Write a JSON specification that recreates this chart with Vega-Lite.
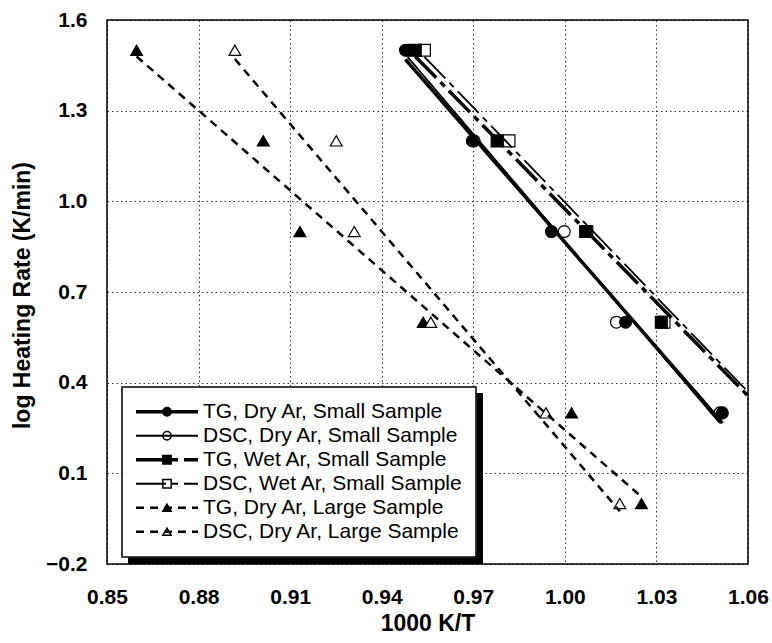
{
  "$schema": "https://vega.github.io/schema/vega-lite/v6.json",
  "width": 641,
  "height": 544,
  "autosize": {"type": "none"},
  "padding": {"left": 107, "top": 20, "right": 24, "bottom": 79},
  "background": "white",
  "config": {
    "font": "Liberation Sans",
    "view": {"stroke": "black", "strokeWidth": 1.5},
    "axis": {
      "labelFont": "Liberation Sans", "labelFontWeight": "bold", "labelFontSize": 21, "labelColor": "black",
      "titleFont": "Liberation Sans", "titleFontWeight": "bold", "titleFontSize": 23, "titleColor": "black",
      "domain": false, "ticks": false, "labelFlush": false, "labelOverlap": false,
      "gridColor": "black", "gridDash": [1.5, 3], "gridWidth": 1, "gridOpacity": 0.8
    },
    "legend": {"labelFont": "Liberation Sans"}
  },
  "data": {
    "values": [
      {"s": "DSC, Dry Ar, Small Sample", "k": 2, "x": 0.9485, "y": 1.5},
      {"s": "DSC, Dry Ar, Small Sample", "k": 2, "x": 0.9703, "y": 1.2},
      {"s": "DSC, Dry Ar, Small Sample", "k": 2, "x": 0.9998, "y": 0.9},
      {"s": "DSC, Dry Ar, Small Sample", "k": 2, "x": 1.0169, "y": 0.6},
      {"s": "DSC, Dry Ar, Small Sample", "k": 2, "x": 1.0508, "y": 0.3},
      {"s": "TG, Dry Ar, Small Sample", "k": 1, "x": 0.9478, "y": 1.5},
      {"s": "TG, Dry Ar, Small Sample", "k": 1, "x": 0.9697, "y": 1.2},
      {"s": "TG, Dry Ar, Small Sample", "k": 1, "x": 0.9956, "y": 0.9},
      {"s": "TG, Dry Ar, Small Sample", "k": 1, "x": 1.0199, "y": 0.6},
      {"s": "TG, Dry Ar, Small Sample", "k": 1, "x": 1.0516, "y": 0.3},
      {"s": "DSC, Wet Ar, Small Sample", "k": 4, "x": 0.954, "y": 1.5},
      {"s": "DSC, Wet Ar, Small Sample", "k": 4, "x": 0.9817, "y": 1.2},
      {"s": "DSC, Wet Ar, Small Sample", "k": 4, "x": 1.0072, "y": 0.9},
      {"s": "DSC, Wet Ar, Small Sample", "k": 4, "x": 1.0325, "y": 0.6},
      {"s": "DSC, Wet Ar, Small Sample", "k": 4, "x": 1.071, "y": 0.3},
      {"s": "TG, Wet Ar, Small Sample", "k": 3, "x": 0.951, "y": 1.5},
      {"s": "TG, Wet Ar, Small Sample", "k": 3, "x": 0.9778, "y": 1.2},
      {"s": "TG, Wet Ar, Small Sample", "k": 3, "x": 1.0068, "y": 0.9},
      {"s": "TG, Wet Ar, Small Sample", "k": 3, "x": 1.0316, "y": 0.6},
      {"s": "TG, Wet Ar, Small Sample", "k": 3, "x": 1.069, "y": 0.3},
      {"s": "TG, Dry Ar, Large Sample", "k": 5, "x": 0.8597, "y": 1.5},
      {"s": "TG, Dry Ar, Large Sample", "k": 5, "x": 0.9012, "y": 1.2},
      {"s": "TG, Dry Ar, Large Sample", "k": 5, "x": 0.9132, "y": 0.9},
      {"s": "TG, Dry Ar, Large Sample", "k": 5, "x": 0.9536, "y": 0.6},
      {"s": "TG, Dry Ar, Large Sample", "k": 5, "x": 1.0022, "y": 0.3},
      {"s": "TG, Dry Ar, Large Sample", "k": 5, "x": 1.0251, "y": 0.0},
      {"s": "DSC, Dry Ar, Large Sample", "k": 6, "x": 0.8919, "y": 1.5},
      {"s": "DSC, Dry Ar, Large Sample", "k": 6, "x": 0.9251, "y": 1.2},
      {"s": "DSC, Dry Ar, Large Sample", "k": 6, "x": 0.931, "y": 0.9},
      {"s": "DSC, Dry Ar, Large Sample", "k": 6, "x": 0.9561, "y": 0.6},
      {"s": "DSC, Dry Ar, Large Sample", "k": 6, "x": 0.9938, "y": 0.3},
      {"s": "DSC, Dry Ar, Large Sample", "k": 6, "x": 1.018, "y": 0.0}
    ]
  },
  "encoding": {
    "x": {
      "field": "x", "type": "quantitative",
      "scale": {"domain": [0.85, 1.06], "nice": false, "zero": false},
      "axis": {
        "values": [0.85, 0.88, 0.91, 0.94, 0.97, 1.0, 1.03, 1.06],
        "format": ".2f", "labelPadding": 22,
        "title": "1000 K/T", "titleY": 59, "titleBaseline": "middle"
      }
    },
    "y": {
      "field": "y", "type": "quantitative",
      "scale": {"domain": [-0.2, 1.6], "nice": false, "zero": false},
      "axis": {
        "values": [-0.2, 0.1, 0.4, 0.7, 1.0, 1.3, 1.6],
        "format": ".1f", "labelPadding": 20,
        "title": "log Heating Rate (K/min)", "titleX": -85, "titleY": 275, "titleBaseline": "middle"
      }
    }
  },
  "layer": [
    {
      "mark": {"type": "point", "filled": true, "clip": true, "strokeWidth": 1.2, "opacity": 1, "stroke": "black"},
      "encoding": {
        "size": {
          "field": "s", "type": "nominal",
          "scale": {"range": [140, 140]},
          "legend": {
            "title": null, "orient": "none", "legendX": 21, "legendY": 373,
            "direction": "vertical", "columns": 1,
            "padding": 13, "clipHeight": 23.5, "rowPadding": 0,
            "labelFontSize": 21, "labelOffset": 25.5, "labelColor": "black", "labelLimit": 400,
            "symbolOffset": 21.5, "symbolType": "circle",
            "fillColor": "black", "strokeColor": "black",
            "encode": {
              "symbols": {"update": {"fill": {"value": "black"}, "stroke": {"value": "black"}, "size": {"value": 60}}}
            }
          }
        },
        "shape": {
          "field": "s", "type": "nominal",
          "sort": {"field": "k", "op": "min"},
          "scale": {"range": ["circle", "circle", "square", "square", "triangle-up", "triangle-up"]},
          "legend": {
            "title": null, "orient": "none", "legendX": 15, "legendY": 367,
            "direction": "vertical", "columns": 1,
            "padding": 13, "clipHeight": 23.5, "rowPadding": 0,
            "labelFontSize": 21, "labelOffset": 25.5, "labelOpacity": 0, "labelLimit": 400,
            "symbolOffset": 21.5, "symbolSize": 70,
            "fillColor": "white", "strokeColor": "transparent",
            "encode": {
              "symbols": {
                "update": {
                  "stroke": {"value": "black"},
                  "strokeWidth": {"value": 1},
                  "opacity": {"value": 1},
                  "size": {"signal": "test(/Large/, datum.value) ? 60 : 75"}
                }
              }
            }
          }
        },
        "fill": {
          "field": "s", "type": "nominal",
          "sort": {"field": "k", "op": "min"},
          "scale": {"range": ["black", "white", "black", "white", "black", "white"]},
          "legend": {
            "title": null, "orient": "none", "legendX": 15, "legendY": 367,
            "direction": "vertical", "columns": 1,
            "padding": 13, "clipHeight": 23.5, "rowPadding": 0,
            "labelFontSize": 21, "labelOffset": 25.5, "labelOpacity": 0, "labelLimit": 400,
            "symbolOffset": 21.5, "symbolSize": 70,
            "fillColor": "white", "strokeColor": "transparent",
            "encode": {
              "symbols": {
                "update": {
                  "stroke": {"value": "black"},
                  "strokeWidth": {"value": 1},
                  "opacity": {"value": 1},
                  "size": {"signal": "test(/Large/, datum.value) ? 60 : 75"}
                }
              }
            }
          }
        }
      }
    },
    {
      "transform": [{"regression": "y", "on": "x", "groupby": ["s"]}],
      "mark": {"type": "line", "clip": true, "color": "black"},
      "encoding": {
        "strokeDash": {
          "field": "s", "type": "nominal",
          "scale": {
            "domain": ["TG, Dry Ar, Small Sample", "DSC, Dry Ar, Small Sample", "TG, Wet Ar, Small Sample", "DSC, Wet Ar, Small Sample", "TG, Dry Ar, Large Sample", "DSC, Dry Ar, Large Sample"],
            "range": [[1, 0], [1, 0], [30, 6, 6, 6], [30, 6, 6, 6], [8, 6], [8, 6]]
          },
          "legend": {
            "title": null, "orient": "none", "legendX": 15, "legendY": 367,
            "direction": "vertical", "columns": 1,
            "padding": 13, "clipHeight": 23.5, "rowPadding": 0,
            "labelFontSize": 21, "labelOffset": 25.5, "labelColor": "black", "labelLimit": 400,
            "symbolOffset": 21.5,
            "symbolType": "stroke", "symbolSize": 3844, "symbolStrokeColor": "black", "symbolStrokeWidth": 2,
            "fillColor": "transparent", "strokeColor": "black",
            "encode": {
              "symbols": {
                "update": {
                  "stroke": {"value": "black"},
                  "strokeWidth": {"signal": "test(/^TG.*Small/, datum.value) ? 3.5 : (test(/Large/, datum.value) ? 2.5 : 1.8)"}
                }
              },
              "legend": {"update": {"strokeWidth": {"value": 1.5}}}
            }
          }
        },
        "strokeWidth": {
          "condition": [
            {"test": "test(/^TG.*Small/, datum.s)", "value": 3.5},
            {"test": "test(/Large/, datum.s)", "value": 2.5}
          ],
          "value": 1.8
        }
      }
    }
  ]
}
